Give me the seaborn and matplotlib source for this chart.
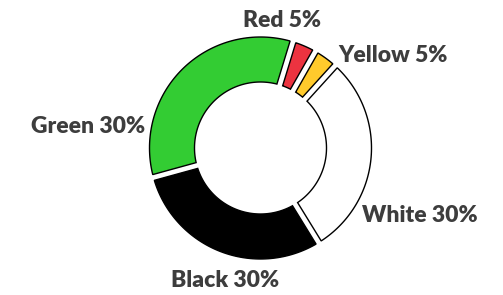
import numpy as np
import seaborn as sns
import matplotlib.pyplot as plt

sns.set_theme(style="white")
plt.rcParams["font.family"] = ["Lato", "DejaVu Sans"]

# data
names = ["Red", "Yellow", "White", "Black", "Green"]
labels = ["Red 5%", "Yellow 5%", "White 30%", "Black 30%", "Green 30%"]
shares = [3.5, 3.5, 29.5, 29.5, 34.0]   # slice sizes as drawn
colors = ["#ec3340", "#ffca2c", "#ffffff", "#000000", "#33cc33"]

# label anchor points in pixels (center x, baseline y)
label_x = [282, 393, 420, 225, 88]
label_y = [27, 62, 222, 287, 133]

W, H = 503, 295
cx, cy = 260.5, 148          # ring center, pixels
r_out, r_in = 111, 66
gap = 6
start = 73                   # degrees, going clockwise


def ring_slice(t1, t2):
    # ring sector between angles t1 < t2 with parallel gaps at the radial edges
    do = np.degrees(np.arcsin(gap / 2 / r_out))
    di = np.degrees(np.arcsin(gap / 2 / r_in))
    a_o = np.radians(np.linspace(t1 + do, t2 - do, 80))
    a_i = np.radians(np.linspace(t2 - di, t1 + di, 80))
    x = np.concatenate([r_out * np.cos(a_o), r_in * np.cos(a_i)])
    y = np.concatenate([r_out * np.sin(a_o), r_in * np.sin(a_i)])
    return x, y


fig = plt.figure(figsize=(W / 100, H / 100), dpi=100)
ax = fig.add_axes([0, 0, 1, 1])

sizes = np.array(shares) / sum(shares) * 360
edges = start - np.concatenate([[0], np.cumsum(sizes)])
for i, c in enumerate(colors):
    x, y = ring_slice(edges[i + 1], edges[i])
    ax.fill(x, y, facecolor=c, edgecolor="black", linewidth=1.0, joinstyle="miter")

for lab, lx, ly in zip(labels, label_x, label_y):
    fig.text(lx / W, 1 - ly / H, lab, ha="center", va="baseline",
             fontsize=16.5, fontweight="heavy", color="#3d3d3d")

ax.set_xlim(-cx, W - cx)
ax.set_ylim(-(H - cy), cy)
ax.set_aspect("equal")
ax.axis("off")

fig.savefig("out.png", dpi=100)
